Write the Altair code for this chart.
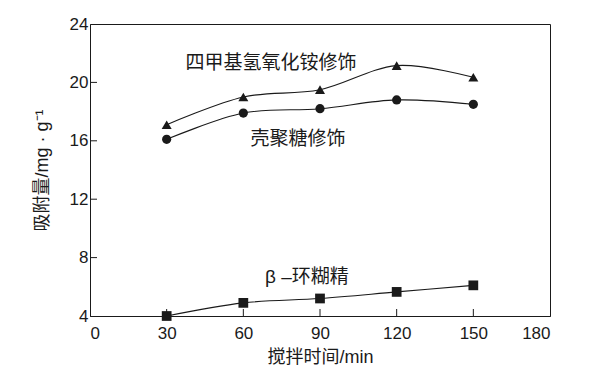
import altair as alt
import pandas as pd

# ---- data ----
times = [30, 60, 90, 120, 150]
tmah = [17.1, 19.0, 19.5, 21.15, 20.35]      # 四甲基氢氧化铵修饰 (triangles)
chitosan = [16.1, 17.9, 18.2, 18.8, 18.5]    # 壳聚糖修饰 (circles)
bcd = [4.0, 4.9, 5.2, 5.65, 6.1]             # β-环糊精 (squares)

series_names = ["四甲基氢氧化铵修饰", "壳聚糖修饰", "β –环糊精"]
label_x = [70.8, 81.4, 84.9]
label_y = [21.3, 16.1, 6.7]

x_ticks = [0, 30, 60, 90, 120, 150, 180]
y_ticks = [4, 8, 12, 16, 20, 24]

FONT = "Liberation Sans, Arial, Noto Sans CJK SC"
INK = "#1a1a1a"

rows = []
for name, vals, shape, sz in [
    (series_names[0], tmah, "triangle-up", 100),
    (series_names[1], chitosan, "circle", 85),
    (series_names[2], bcd, "square", 95),
]:
    for t, v in zip(times, vals):
        rows.append({"t": t, "v": v, "s": name, "shape": shape, "size": sz})
df = pd.DataFrame(rows)

labels = pd.DataFrame({"x": label_x, "y": label_y, "text": series_names})

xs = alt.Scale(domain=[0, 180], nice=False, zero=False)
ys = alt.Scale(domain=[4, 24], nice=False, zero=False)

x_axis = alt.Axis(values=x_ticks, ticks=False, tickSize=0, grid=False, labelPadding=9,
                  title="搅拌时间/min", titleX=230, titleY=41, titleAlign="center",
                  titleBaseline="middle", labelFontSize=17, titleFontSize=18,
                  labelFont=FONT, titleFont=FONT, labelColor=INK, titleColor=INK,
                  titleFontWeight="normal", domainColor=INK)
y_axis = alt.Axis(values=y_ticks, ticks=False, tickSize=0, grid=False, labelPadding=2,
                  title="吸附量/mg · g⁻¹", titleX=-48, titleY=146, titleAlign="center",
                  titleBaseline="middle", titleAngle=-90, labelFontSize=17, titleFontSize=18,
                  labelFont=FONT, titleFont=FONT, labelColor=INK, titleColor=INK,
                  titleFontWeight="normal", domainColor=INK)

base = alt.Chart(df)

lines = base.mark_line(interpolate="cardinal", color=INK, strokeWidth=1.1).encode(
    x=alt.X("t:Q", scale=xs, axis=x_axis),
    y=alt.Y("v:Q", scale=ys, axis=y_axis),
    detail="s:N",
)

points = base.mark_point(filled=True, color=INK, opacity=1).encode(
    x=alt.X("t:Q", scale=xs),
    y=alt.Y("v:Q", scale=ys),
    shape=alt.Shape("shape:N", scale=None),
    size=alt.Size("size:Q", scale=None),
)

texts = alt.Chart(labels).mark_text(font=FONT, fontSize=19, color=INK,
                                    align="center", baseline="middle").encode(
    x=alt.X("x:Q", scale=xs),
    y=alt.Y("y:Q", scale=ys),
    text="text:N",
)

xt = pd.DataFrame({"t": x_ticks[1:-1]})
yt = pd.DataFrame({"t": y_ticks[1:-1]})

x_tick_marks = alt.Chart(xt).mark_rule(color=INK, strokeWidth=1).encode(
    x=alt.X("t:Q", scale=xs),
    y=alt.value(292),
    y2=alt.value(285),
)
y_tick_marks = alt.Chart(yt).mark_rule(color=INK, strokeWidth=1).encode(
    y=alt.Y("t:Q", scale=ys),
    x=alt.value(0),
    x2=alt.value(7),
)

chart = alt.layer(lines, points, texts, x_tick_marks, y_tick_marks).properties(
    width=460,
    height=292,
    autosize=alt.AutoSizeParams(type="none"),
    padding={"left": 82, "top": 16, "right": 44, "bottom": 57},
    background="white",
).configure_view(stroke=INK, strokeWidth=1)

chart.save("out.html", embed_options={"renderer": "svg", "actions": False})
